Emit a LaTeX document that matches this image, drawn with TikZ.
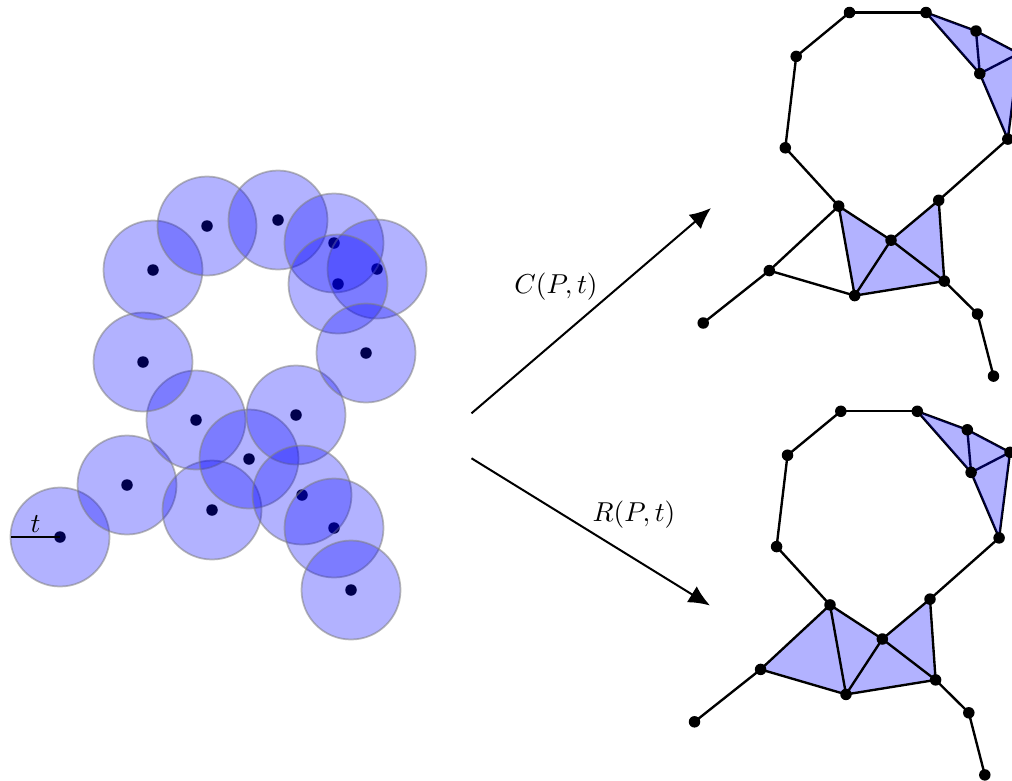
\documentclass[tikz,border=0pt]{standalone}
\usetikzlibrary{arrows.meta}
\newcommand\defcx[3]{%
  \foreach \n/\x/\y in {a/703.2/323, b/769.3/270.6, c/854.7/295.6, d/838.7/206.1,
    e/891/240.2, f/938.7/200.3, g/944.3/281.1, h/977.5/314, i/993.5/376.1,
    j/785.3/147.8, k/796.2/56.4, l/849.5/12.5, m/926/12.5, n/976/31,
    q/979.8/73.6, r/1007.8/139.1, o/1018.7/53.5}
    {\coordinate (#1\n) at ({\x+#2},{\y+#3});}}
\newcommand\drawcx[1]{%
  \fill[tri] (#1d) -- (#1e) -- (#1c) -- cycle;
  \fill[tri] (#1c) -- (#1e) -- (#1g) -- cycle;
  \fill[tri] (#1e) -- (#1f) -- (#1g) -- cycle;
  \foreach \u/\v in {a/b, b/d, b/c, d/c, d/e, e/c, e/f, f/g, e/g, c/g, g/h, h/i,
    d/j, j/k, k/l, l/m, m/n, m/q, n/q, n/o, q/o, q/r, o/r, f/r}
    {\draw[edge] (#1\u) -- (#1\v);}
  \fill[trit] (#1m) -- (#1n) -- (#1q) -- cycle;
  \fill[trit] (#1n) -- (#1o) -- (#1q) -- cycle;
  \fill[trit] (#1q) -- (#1o) -- (#1r) -- cycle;
  \foreach \u in {a,b,c,d,e,f,g,h,i,j,k,l,m,n,o,q,r}
    {\fill (#1\u) circle[radius=2.3pt];}}
\begin{document}
\begin{tikzpicture}[x=0.4pt,y=-0.4pt,
  ball/.style={fill=blue, fill opacity=0.3, draw=gray, draw opacity=0.55, line width=0.7pt},
  tri/.style={fill=blue!30},
  trit/.style={fill=blue, fill opacity=0.3},
  edge/.style={line width=0.95pt, line join=round},
  arr/.style={line width=0.8pt, -{Latex[length=8.5pt,width=7.5pt]}},
  lab/.style={font=\fontsize{11}{13}\selectfont, inner sep=0pt}]
\useasboundingbox (0,0) rectangle (1012,780);
\clip (0,0) rectangle (1012,780);
% point cloud
\foreach \n/\x/\y in {1/60/537, 2/127/485, 3/212/510, 4/196/420, 5/249/459,
  6/296/415, 7/302/495, 8/334/528, 9/351/590, 10/143/362, 11/153/270,
  12/207/226, 13/278/220, 14/334/243, 15/377/269, 16/338/284, 17/366/353}
  {\coordinate (p\n) at (\x,\y);}
\foreach \n in {1,...,17} {\fill (p\n) circle[radius=2.3pt];}
\foreach \n in {1,...,17} {\path[ball] (p\n) circle[radius=19.8pt];}
\coordinate (tl) at (11,537);
\draw[line width=0.8pt] (tl) -- node[above, inner sep=1.5pt, font=\fontsize{11}{13}\selectfont] (tlab) {$t$} (p1);
% arrows
\coordinate (ca1) at (471.5,413.3);
\coordinate (ca2) at (711,208);
\draw[arr] (ca1) -- (ca2);
\node[lab] (lc) at (556,287) {$C(P,t)$};
\coordinate (ra1) at (471.5,458.3);
\coordinate (ra2) at (710,605.5);
\draw[arr] (ra1) -- (ra2);
\node[lab] (lr) at (634,515) {$R(P,t)$};
% complexes
\defcx{C}{0}{0}
\drawcx{C}
\defcx{R}{-8.7}{398.8}
\fill[tri] (Rb) -- (Rd) -- (Rc) -- cycle;
\drawcx{R}
\end{tikzpicture}
\end{document}
